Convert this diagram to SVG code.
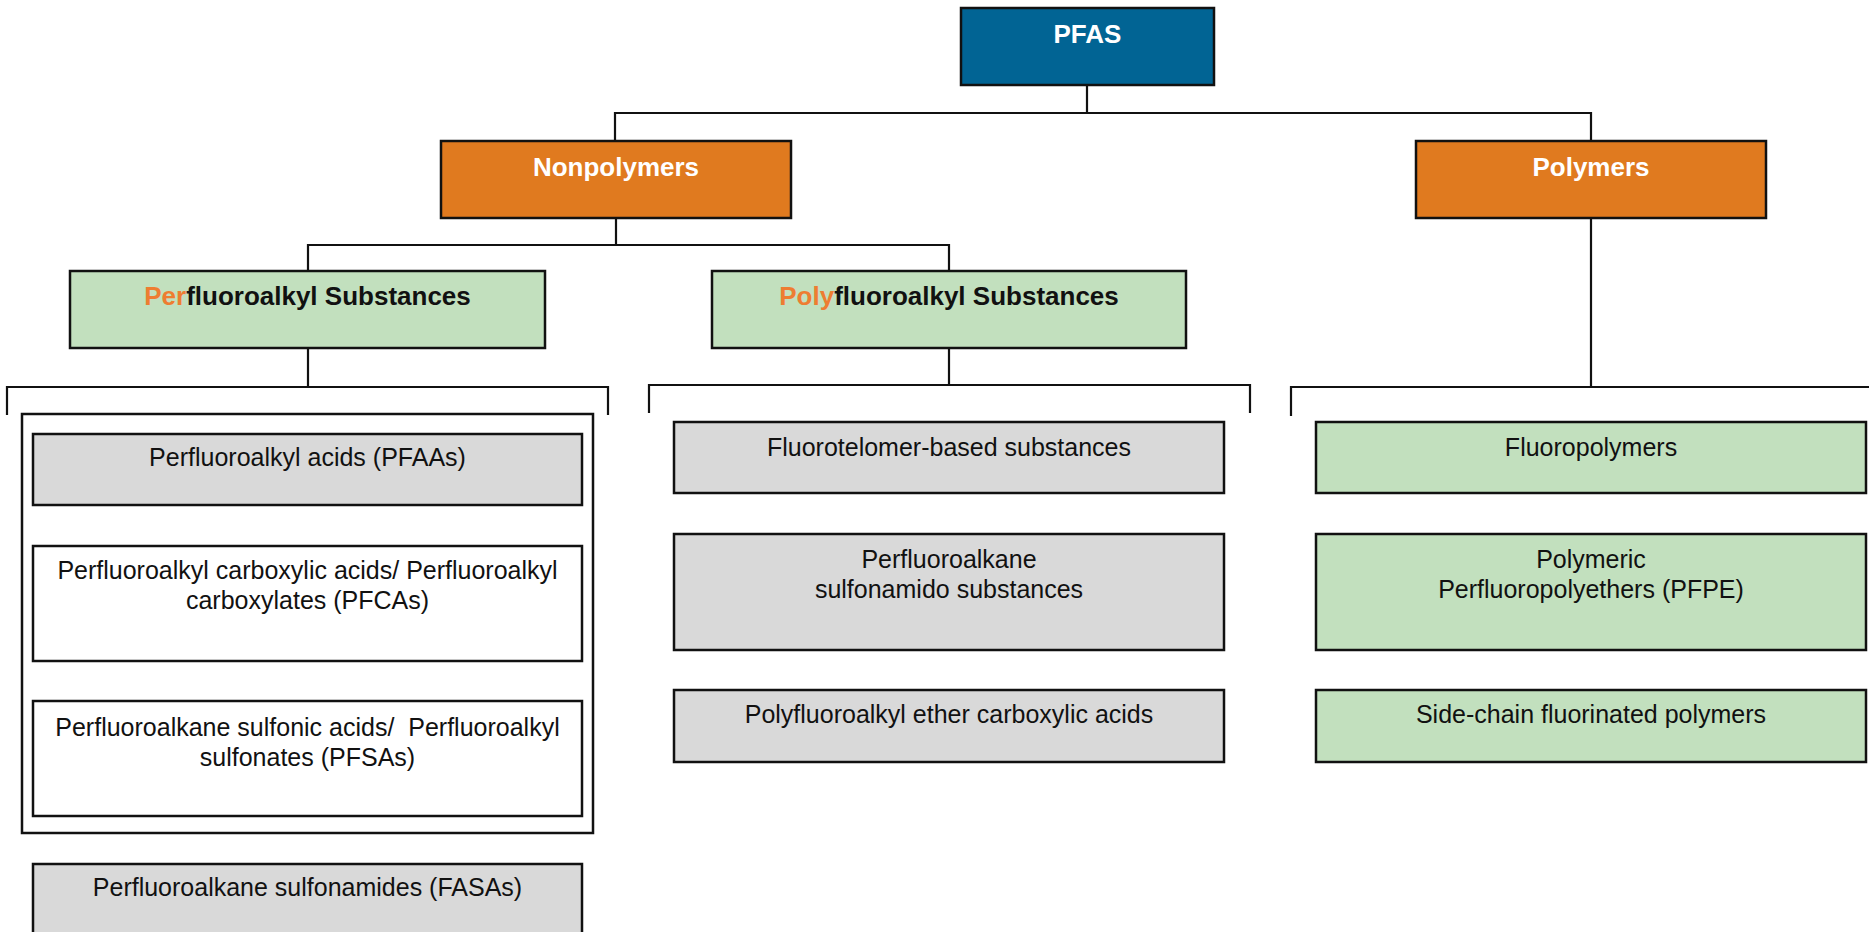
<svg xmlns="http://www.w3.org/2000/svg" width="1869" height="932" viewBox="0 0 1869 932">
<style>
  .box { stroke: #111; stroke-width: 2.5; }
  .blue { fill: #016494; }
  .orange { fill: #E07A1F; }
  .green { fill: #C2E0BE; }
  .grey { fill: #D9D9D9; }
  .white { fill: #FFFFFF; }
  .frame { fill: none; stroke: #111; stroke-width: 2.5; }
  .conn { fill: none; stroke: #111; stroke-width: 2.2; }
  text { font-family: "Liberation Sans", Arial, sans-serif; text-anchor: middle; }
  .t { font-size: 25px; fill: #111; }
  .h { font-size: 26px; font-weight: bold; fill: #FFFFFF; }
  .hd { font-size: 26px; font-weight: bold; fill: #111; }
  .acc { fill: #EE7D31; }
</style>
<rect width="1869" height="932" fill="#FFFFFF"/>
<g id="connectors">
  <path class="conn" d="M1087,85 V113 M615,141 V113 H1591 V141"/>
  <path class="conn" d="M616,218 V245 M308,271 V245 H949 V271"/>
  <path class="conn" d="M308,348 V387 M7,415 V387 H608 V415"/>
  <path class="conn" d="M949,348 V385 M649,413 V385 H1250 V413"/>
  <path class="conn" d="M1591,218 V387 M1291,416 V387 H1869"/>
</g>
<g id="pfas">
  <rect class="box blue" x="961" y="8" width="253" height="77"/>
  <text class="h" x="1087.5" y="43">PFAS</text>
</g>
<g id="nonpolymers">
  <rect class="box orange" x="441" y="141" width="350" height="77"/>
  <text class="h" x="616" y="176">Nonpolymers</text>
</g>
<g id="polymers">
  <rect class="box orange" x="1416" y="141" width="350" height="77"/>
  <text class="h" x="1591" y="176">Polymers</text>
</g>
<g id="perfluoroalkyl">
  <rect class="box green" x="70" y="271" width="475" height="77"/>
  <text class="hd" x="307.5" y="305"><tspan class="acc">Per</tspan>fluoroalkyl Substances</text>
</g>
<g id="polyfluoroalkyl">
  <rect class="box green" x="712" y="271" width="474" height="77"/>
  <text class="hd" x="949" y="305"><tspan class="acc">Poly</tspan>fluoroalkyl Substances</text>
</g>
<g id="pfaa-group">
  <rect class="frame" x="22" y="414" width="571" height="419"/>
</g>
<g id="pfaas">
  <rect class="box grey" x="33" y="434" width="549" height="71"/>
  <text class="t" x="307.5" y="466">Perfluoroalkyl acids (PFAAs)</text>
</g>
<g id="pfcas">
  <rect class="box white" x="33" y="546" width="549" height="115"/>
  <text class="t" x="307.5" y="579">Perfluoroalkyl carboxylic acids/ Perfluoroalkyl</text>
  <text class="t" x="307.5" y="609">carboxylates (PFCAs)</text>
</g>
<g id="pfsas">
  <rect class="box white" x="33" y="701" width="549" height="115"/>
  <text class="t" x="307.5" y="736" xml:space="preserve">Perfluoroalkane sulfonic acids/  Perfluoroalkyl</text>
  <text class="t" x="307.5" y="766">sulfonates (PFSAs)</text>
</g>
<g id="fasas">
  <rect class="box grey" x="33" y="864" width="549" height="90"/>
  <text class="t" x="307.5" y="896">Perfluoroalkane sulfonamides (FASAs)</text>
</g>
<g id="fluorotelomer">
  <rect class="box grey" x="674" y="422" width="550" height="71"/>
  <text class="t" x="949" y="456">Fluorotelomer-based substances</text>
</g>
<g id="sulfonamido">
  <rect class="box grey" x="674" y="534" width="550" height="116"/>
  <text class="t" x="949" y="568">Perfluoroalkane</text>
  <text class="t" x="949" y="598">sulfonamido substances</text>
</g>
<g id="ether">
  <rect class="box grey" x="674" y="690" width="550" height="72"/>
  <text class="t" x="949" y="723">Polyfluoroalkyl ether carboxylic acids</text>
</g>
<g id="fluoropolymers">
  <rect class="box green" x="1316" y="422" width="550" height="71"/>
  <text class="t" x="1591" y="456">Fluoropolymers</text>
</g>
<g id="pfpe">
  <rect class="box green" x="1316" y="534" width="550" height="116"/>
  <text class="t" x="1591" y="568">Polymeric</text>
  <text class="t" x="1591" y="598">Perfluoropolyethers (PFPE)</text>
</g>
<g id="sidechain">
  <rect class="box green" x="1316" y="690" width="550" height="72"/>
  <text class="t" x="1591" y="723">Side-chain fluorinated polymers</text>
</g>
</svg>
